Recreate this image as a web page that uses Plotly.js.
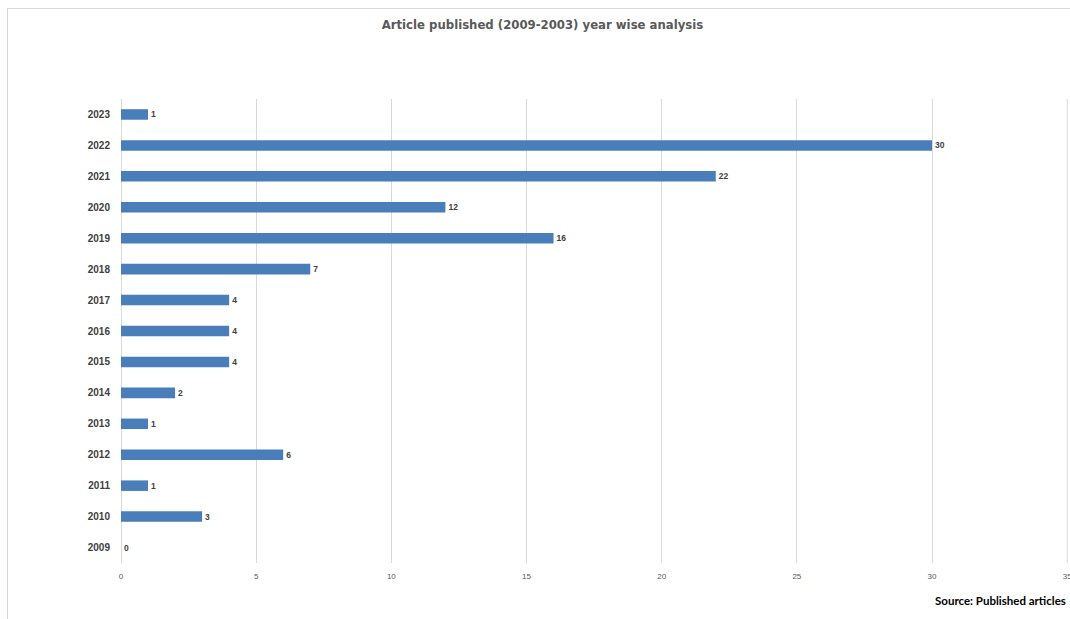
<!DOCTYPE html>
<html>
<head>
<meta charset="utf-8">
<script src="https://cdn.plot.ly/plotly-3.0.1.min.js"></script>
<style>
  html, body { margin: 0; padding: 0; background: #fff; }
  #wrap { position: relative; width: 1070px; height: 619px; overflow: hidden; }
  #chart { width: 1070px; height: 619px; }
  #frame { position: absolute; left: 7px; top: 8px; right: -2px; bottom: -2px;
           border-top: 1px solid #d9d9d9; border-left: 1px solid #d9d9d9; pointer-events: none; }
</style>
</head>
<body>
<div id="wrap">
  <div id="chart"></div>
  <div id="frame"></div>
</div>
<script>
// Articles published per year
const years = ["2009", "2010", "2011", "2012", "2013", "2014", "2015", "2016",
               "2017", "2018", "2019", "2020", "2021", "2022", "2023"];
const articles = [0, 3, 1, 6, 1, 2, 4, 4, 4, 7, 16, 12, 22, 30, 1];
const xTicks = [0, 5, 10, 15, 20, 25, 30, 35];
const xMax = 35;

const trace = {
  type: "bar",
  orientation: "h",
  y: years,
  x: articles,
  text: articles.map(String),
  textposition: "outside",
  cliponaxis: false,
  textfont: { family: "Liberation Sans, Arial, sans-serif", size: 8.5, color: "#404040", weight: "bold" },
  marker: { color: "#4a7ebb" },
  width: 0.34,
  hoverinfo: "skip"
};

const layout = {
  width: 1070,
  height: 619,
  margin: { l: 121, r: 2, t: 99, b: 56 },
  paper_bgcolor: "#ffffff",
  plot_bgcolor: "#ffffff",
  showlegend: false,
  title: {
    text: "Article published (2009-2003) year wise analysis",
    x: 0.507, xanchor: "center",
    y: 0.96, yanchor: "middle", yref: "container",
    font: { family: "DejaVu Sans Condensed, Liberation Sans Narrow, Arial Narrow, sans-serif",
            size: 13, color: "#595959", weight: "bold", stretch: "condensed" }
  },
  xaxis: {
    range: [0, 35.03],
    tickvals: xTicks,
    ticktext: xTicks.map(String),
    showgrid: true,
    gridcolor: "#d9d9d9",
    gridwidth: 1,
    zeroline: true,
    zerolinecolor: "#d9d9d9",
    showline: false,
    ticks: "",
    ticklabelstandoff: 7,
    ticklabeloverflow: "allow",
    tickfont: { family: "Liberation Sans, Arial, sans-serif", size: 8, color: "#595959" },
    fixedrange: true
  },
  yaxis: {
    type: "category",
    categoryorder: "array",
    categoryarray: years,
    range: [-0.5, 14.5],
    showgrid: false,
    zeroline: false,
    showline: false,
    ticks: "",
    ticklabelstandoff: 10,
    tickfont: { family: "Liberation Sans, Arial, sans-serif", size: 10, color: "#404040", weight: "bold" },
    fixedrange: true
  },
  // last vertical gridline sits on the plot edge, so it is drawn explicitly
  shapes: [{
    type: "line", layer: "below",
    xref: "x", yref: "paper",
    x0: xMax, x1: xMax, y0: 0, y1: 1,
    line: { color: "#d9d9d9", width: 1 }
  }],
  annotations: [{
    text: "Source: Published articles",
    xref: "paper", yref: "paper",
    x: 1.0, y: -0.08,
    xanchor: "right", yanchor: "middle",
    showarrow: false,
    font: { family: "Lato, Liberation Sans, Arial, sans-serif", size: 11.5, color: "#000000", weight: "bold" }
  }]
};

Plotly.newPlot("chart", [trace], layout, { displayModeBar: false, staticPlot: true });
</script>
</body>
</html>
